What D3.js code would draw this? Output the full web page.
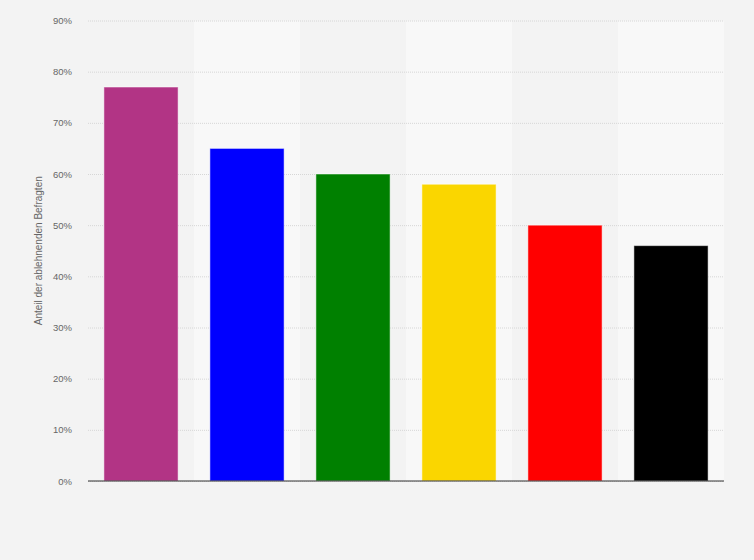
<!DOCTYPE html>
<html lang="de">
<head>
<meta charset="utf-8">
<title>Anteil der ablehnenden Befragten</title>
<script src="https://cdn.jsdelivr.net/npm/d3@7"></script>
<style>
  body { margin: 0; background: #f3f3f3; }
  svg { display: block; font-family: "Liberation Sans", Arial, sans-serif; }
</style>
</head>
<body>
<script>
// data
var categories = ["A", "B", "C", "D", "E", "F"];
var values = [77, 65, 60, 58, 50, 46];
var colors = ["#b23485", "#0000ff", "#008000", "#fad600", "#ff0000", "#000000"];
var yTicks = [0, 10, 20, 30, 40, 50, 60, 70, 80, 90];
var yTitle = "Anteil der ablehnenden Befragten";

var w = 754, h = 560;
var margin = {top: 20.5, right: 30, bottom: 79, left: 88};

var svg = d3.select("body").append("svg")
    .attr("width", w)
    .attr("height", h);

svg.append("rect")
    .attr("width", w).attr("height", h)
    .attr("fill", "#f3f3f3");

var x = d3.scaleBand()
    .domain(categories)
    .range([margin.left, w - margin.right])
    .paddingInner(0.3)
    .paddingOuter(0.15);

var bandX = d3.scaleBand()
    .domain(categories)
    .range([margin.left, w - margin.right]);

var y = d3.scaleLinear()
    .domain([0, 90])
    .range([h - margin.bottom, margin.top]);

// alternating column bands
svg.append("g").selectAll("rect")
    .data(categories)
    .enter().append("rect")
    .attr("x", function(d) { return bandX(d); })
    .attr("y", y(90))
    .attr("width", bandX.bandwidth())
    .attr("height", y(0) - y(90))
    .attr("fill", function(d, i) { return i % 2 ? "#f8f8f8" : "#f3f3f3"; });

// grid + tick labels
var yAxis = svg.append("g")
    .attr("transform", "translate(" + margin.left + ",0)")
    .call(d3.axisLeft(y)
        .tickValues(yTicks)
        .tickSize(-(w - margin.left - margin.right))
        .tickPadding(16)
        .tickFormat(function(d) { return d + "%"; }));
yAxis.select(".domain").remove();
yAxis.selectAll(".tick line")
    .attr("stroke", "#d6d6d6")
    .attr("stroke-dasharray", "1,1");
yAxis.selectAll(".tick text")
    .attr("fill", "#666")
    .attr("font-size", "9.5px");

// bars
svg.append("g").selectAll("rect")
    .data(values)
    .enter().append("rect")
    .attr("x", function(d, i) { return x(categories[i]); })
    .attr("y", function(d) { return y(d); })
    .attr("width", x.bandwidth())
    .attr("height", function(d) { return y(0) - y(d); })
    .attr("fill", function(d, i) { return colors[i]; })
    .attr("stroke", "rgba(255,255,255,0.5)")
    .attr("stroke-width", 1);

// baseline
svg.append("line")
    .attr("x1", margin.left).attr("x2", w - margin.right)
    .attr("y1", y(0)).attr("y2", y(0))
    .attr("stroke", "#333")
    .attr("stroke-width", 1.2);

// y title
svg.append("text")
    .attr("transform", "translate(42," + ((y(0) + y(90)) / 2) + ") rotate(-90)")
    .attr("text-anchor", "middle")
    .attr("fill", "#666")
    .attr("font-size", "10px")
    .text(yTitle);
</script>
</body>
</html>
